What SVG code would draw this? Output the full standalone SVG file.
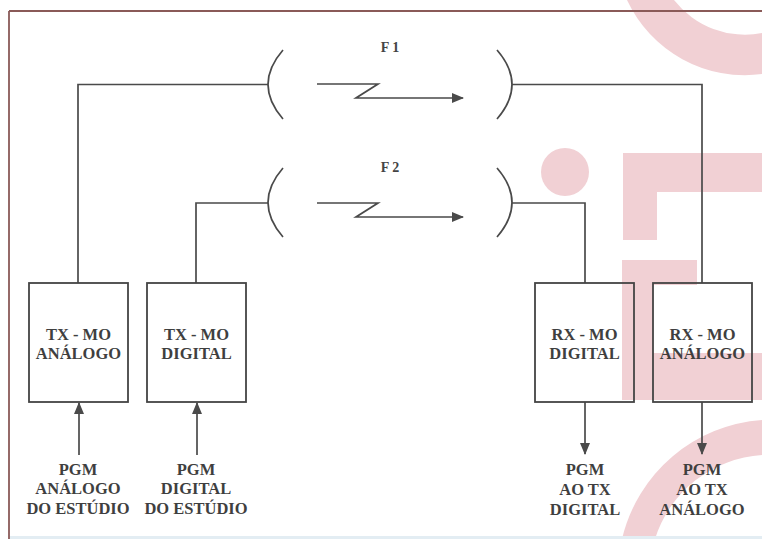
<svg xmlns="http://www.w3.org/2000/svg" width="762" height="539" viewBox="0 0 762 539">
<style>
  .wm{fill:#f1d0d4}
  .ln{fill:none;stroke:#4a4a4a;stroke-width:1.7}
  .box{fill:none;stroke:#444;stroke-width:1.8}
  .t{font-family:"Liberation Serif","Times New Roman",serif;font-weight:bold;font-size:16.5px;fill:#3f3f3f;text-anchor:middle}
  .f{font-family:"Liberation Serif","Times New Roman",serif;font-weight:bold;font-size:14px;fill:#444;text-anchor:middle}
</style>
<defs>
  <marker id="ah" viewBox="0 0 12 10" refX="11" refY="5" markerWidth="12" markerHeight="10" markerUnits="userSpaceOnUse" orient="auto">
    <path d="M0 0 L12 5 L0 10 Z" fill="#4a4a4a"/>
  </marker>
</defs>
<rect width="762" height="539" fill="#ffffff"/>
<g id="watermark">
  <path class="wm" d="M627 0 A130 130 0 0 0 762 74 L762 33 A90 90 0 0 1 674 0 Z"/>
  <circle class="wm" cx="565" cy="172" r="24"/>
  <path class="wm" d="M623 153 H762 V192 H657 V240 H623 Z"/>
  <path class="wm" d="M622 260 H697 V285 H653 V353 H762 V400 H622 Z"/>
  <path class="wm" d="M622 539 A155 155 0 0 1 762 420 L762 455 A120 120 0 0 0 655 539 Z"/>
</g>
<g id="frame">
  <line x1="9" y1="11" x2="762" y2="11" stroke="#8a5a58" stroke-width="1.8"/>
  <line x1="9" y1="11" x2="9" y2="539" stroke="#8a5a58" stroke-width="1.8"/>
  <rect x="10" y="536" width="752" height="3" fill="#e3edf3"/>
</g>
<g id="connectors">
  <path class="ln" d="M78 283 V84.5 H268"/>
  <path class="ln" d="M196 283 V203 H268"/>
  <path class="ln" d="M512 84.5 H702 V283"/>
  <path class="ln" d="M512 203 H585 V283"/>
  <path class="ln" d="M283 50 Q253 84.5 283 119"/>
  <path class="ln" d="M497 50 Q527 84.5 497 119"/>
  <path class="ln" d="M283 168 Q253 202.5 283 237"/>
  <path class="ln" d="M497 168 Q527 202.5 497 237"/>
  <path class="ln" d="M317 84 H378 L356 98 H463" marker-end="url(#ah)"/>
  <path class="ln" d="M317 203 H378 L356 217 H463" marker-end="url(#ah)"/>
  <path class="ln" d="M79 455 V403" marker-end="url(#ah)"/>
  <path class="ln" d="M197 455 V403" marker-end="url(#ah)"/>
  <path class="ln" d="M585 402 V454" marker-end="url(#ah)"/>
  <path class="ln" d="M702 402 V454" marker-end="url(#ah)"/>
</g>
<g id="link-labels">
  <text class="f" x="390" y="52">F 1</text>
  <text class="f" x="390" y="172">F 2</text>
</g>
<g id="tx-analogo">
  <rect class="box" x="29" y="283" width="99" height="119"/>
  <text class="t" x="78.5" y="340">TX - MO</text>
  <text class="t" x="78.5" y="359">ANÁLOGO</text>
</g>
<g id="tx-digital">
  <rect class="box" x="147" y="283" width="99" height="119"/>
  <text class="t" x="196.5" y="340">TX - MO</text>
  <text class="t" x="196.5" y="359">DIGITAL</text>
</g>
<g id="rx-digital">
  <rect class="box" x="535" y="283" width="99" height="119"/>
  <text class="t" x="584.5" y="340">RX - MO</text>
  <text class="t" x="584.5" y="359">DIGITAL</text>
</g>
<g id="rx-analogo">
  <rect class="box" x="653" y="283" width="99" height="119"/>
  <text class="t" x="702.5" y="340">RX - MO</text>
  <text class="t" x="702.5" y="359">ANÁLOGO</text>
</g>
<g id="in-analogo">
  <text class="t" x="78" y="475">PGM</text>
  <text class="t" x="78" y="494">ANÁLOGO</text>
  <text class="t" x="78" y="514">DO ESTÚDIO</text>
</g>
<g id="in-digital">
  <text class="t" x="196" y="475">PGM</text>
  <text class="t" x="196" y="494">DIGITAL</text>
  <text class="t" x="196" y="514">DO ESTÚDIO</text>
</g>
<g id="out-digital">
  <text class="t" x="585" y="475">PGM</text>
  <text class="t" x="585" y="495">AO TX</text>
  <text class="t" x="585" y="515">DIGITAL</text>
</g>
<g id="out-analogo">
  <text class="t" x="702" y="475">PGM</text>
  <text class="t" x="702" y="495">AO TX</text>
  <text class="t" x="702" y="515">ANÁLOGO</text>
</g>
</svg>
